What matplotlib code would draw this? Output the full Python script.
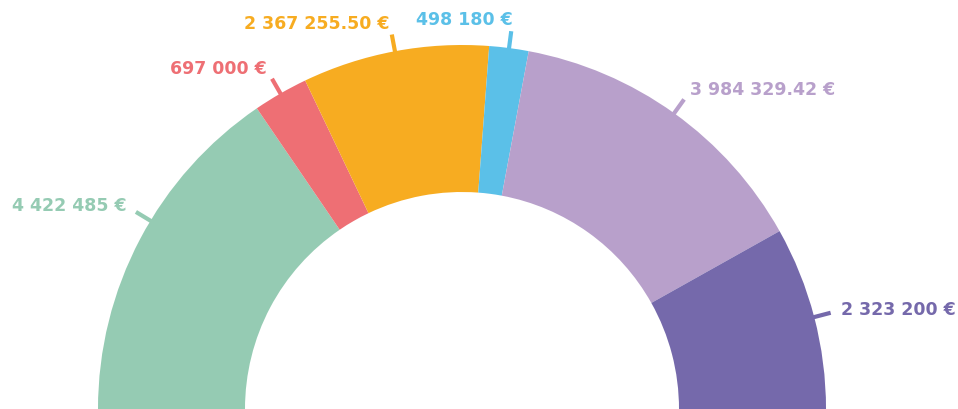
import matplotlib
matplotlib.use("Agg")
import matplotlib.pyplot as plt
import numpy as np

labels = ["4 422 485 €", "697 000 €", "2 367 255.50 €", "498 180 €", "3 984 329.42 €", "2 323 200 €"]
values = [4422485, 697000, 2367255.50, 498180, 3984329.42, 2323200]
colors = ["#95cbb3", "#ee6f74", "#f7ac21", "#5bc0e8", "#b8a0cb", "#7569ab"]

# the reference puts the first tick a bit higher than the slice middle
tick_nudge = [-3.3, 0, 0, 0, 0, 0]

W, H = 958, 409
cx, cy = 462, 0
r_out, r_in = 364, 217

fig = plt.figure(figsize=(W / 100, H / 100), dpi=100)
ax = fig.add_axes([0, 0, 1, 1])

total = sum(values)
ax.pie(values + [total], radius=r_out, center=(cx, cy), startangle=180,
       counterclock=False, colors=colors + ["none"],
       wedgeprops=dict(width=r_out - r_in, linewidth=0))

# ticks and labels
ends = 180 - np.cumsum(values) / total * 180
starts = np.concatenate([[180], ends[:-1]])
for lab, col, a0, a1, nud in zip(labels, colors, starts, ends, tick_nudge):
    deg = (a0 + a1) / 2 + nud
    ang = np.deg2rad(deg)
    c, s = np.cos(ang), np.sin(ang)
    ax.plot([cx + 358 * c, cx + 381 * c], [cy + 358 * s, cy + 381 * s],
            color=col, lw=3, solid_capstyle="butt", zorder=0)
    ha = "left" if deg < 70 else "right"
    ax.text(cx + 392 * c, cy + 392 * s, lab, color=col, ha=ha, va="center",
            fontsize=12.5, fontweight="bold", family="DejaVu Sans")

ax.set_xlim(0, W)
ax.set_ylim(0, H)
ax.set_aspect("auto")
ax.axis("off")

fig.savefig("out.png", dpi=100)
